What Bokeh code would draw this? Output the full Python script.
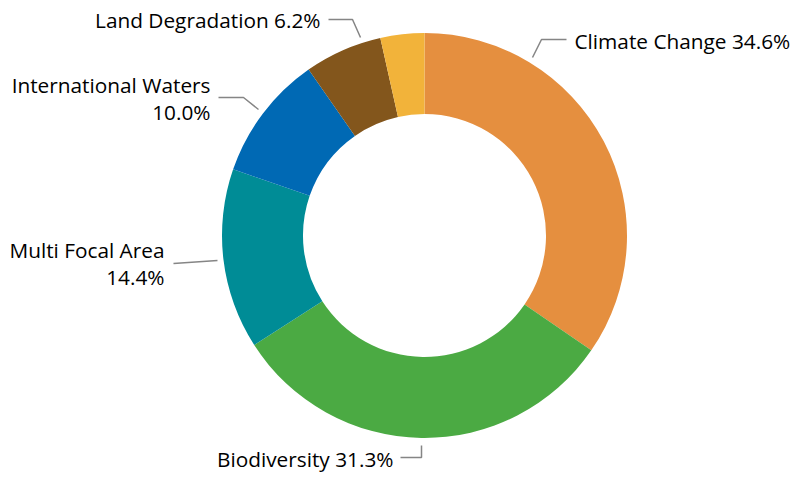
import math
from bokeh.plotting import figure
from bokeh.models import Range1d, ColumnDataSource
from bokeh.embed import file_html
from bokeh.resources import INLINE
from bokeh.core.properties import value

# ---- data ----
categories = ["Climate Change", "Biodiversity", "Multi Focal Area",
              "International Waters", "Land Degradation", "Other"]
shares = [34.6, 31.3, 14.4, 10.0, 6.2, 3.5]
show_label = [True, True, True, True, True, False]

# ---- styles / layout ----
colors = ["#E58F3F", "#4BAA43", "#008C96", "#0069B4", "#83561C", "#F2B33A"]
W, H = 792, 480
CX, CY = 424, 235          # centre in page pixels (y down)
R_OUT, R_IN = 202.5, 121.5
FONT = "Open Sans"
FSIZE = "20.8px"
BASE_SHIFT = -8            # correction for baseline placement
# label layout: (align, dx, dy of first baseline, two-line?) relative to centre, y down
label_layout = [
    ("left", 150, -187, False),
    ("right", -31, 231, False),
    ("right", -260, 22, True),
    ("right", -214, -143, True),
    ("right", -104, -208, False),
    None,
]
leader_layout = [
    [(108, -178), (117, -196), (142, -196)],
    [(-24, 222), (-3, 222), (-3, 210)],
    [(-251, 28), (-207, 25)],
    [(-206, -138), (-181, -138), (-166, -126)],
    [(-96, -216), (-72, -216), (-64, -198)],
    None,
]
LINE_GAP = 27.5


def px(dx, dy):
    """offset from centre (y down) -> data coords (y up)"""
    return CX + dx, (H - CY) - dy


p = figure(width=W, height=H, output_backend="svg", toolbar_location=None,
           x_range=Range1d(0, W), y_range=Range1d(0, H),
           min_border=0)
p.axis.visible = False
p.grid.visible = False
p.outline_line_color = None
p.background_fill_color = "white"
p.border_fill_color = "white"

total = sum(shares)
starts, ends = [], []
cum = 0.0
for s in shares:
    starts.append(math.pi / 2 - 2 * math.pi * cum / total)
    cum += s
    ends.append(math.pi / 2 - 2 * math.pi * cum / total)

cx_d, cy_d = px(0, 0)
src = ColumnDataSource(dict(x=[cx_d] * len(shares), y=[cy_d] * len(shares),
                            start=starts, end=ends, color=colors))
p.annular_wedge(x="x", y="y", inner_radius=R_IN, outer_radius=R_OUT,
                start_angle="start", end_angle="end", direction="clock",
                fill_color="color", line_color=None, source=src)

# leader lines
xs, ys = [], []
for lay in leader_layout:
    if lay is None:
        continue
    pts = [px(dx, dy) for dx, dy in lay]
    xs.append([q[0] for q in pts])
    ys.append([q[1] for q in pts])
p.multi_line(xs=xs, ys=ys, line_color="#858585", line_width=1.5)

# labels
for cat, sh, show, lay in zip(categories, shares, show_label, label_layout):
    if not show or lay is None:
        continue
    align, dx, dy, two = lay
    pct = f"{sh:.1f}%"
    lines = [cat, pct] if two else [f"{cat} {pct}"]
    for i, t in enumerate(lines):
        x, y = px(dx, dy + BASE_SHIFT + i * LINE_GAP)
        p.text(x=[x], y=[y], text=[t], text_align=align,
               text_baseline="alphabetic", text_font=value(FONT),
               text_font_size=FSIZE, text_color="#000000")

open("out.html", "w").write(file_html(p, INLINE))
